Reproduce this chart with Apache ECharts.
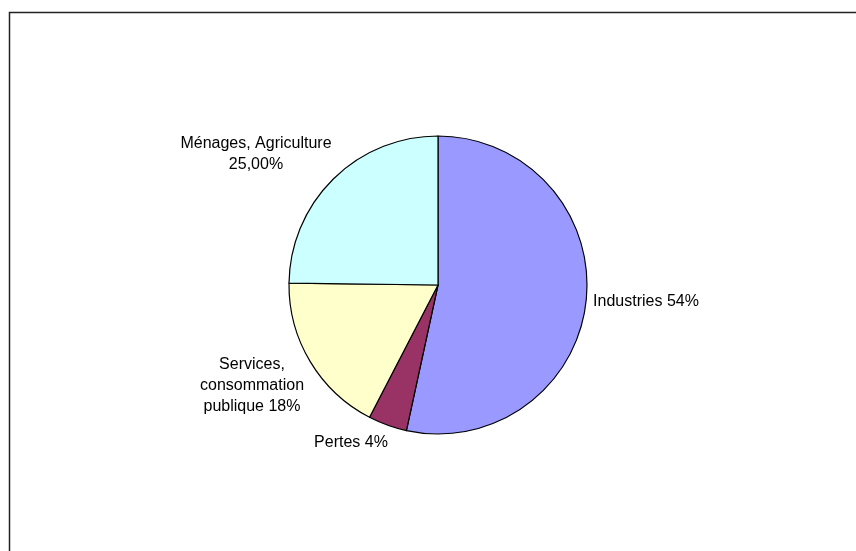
<!DOCTYPE html>
<html>
<head>
<meta charset="utf-8">
<script src="https://cdn.jsdelivr.net/npm/echarts@6/dist/echarts.min.js"></script>
<style>
  html, body { margin: 0; padding: 0; background: #fff; }
  #chart { width: 856px; height: 551px; }
</style>
</head>
<body>
<div id="chart"></div>
<script>
// data
const categories = ['Industries', 'Pertes', 'Services, consommation publique', 'Ménages, Agriculture'];
const values = [53.4, 4.2, 17.6, 24.8];
const labelTexts = ['Industries 54%', 'Pertes 4%', 'Services,\nconsommation\npublique 18%', 'Ménages, Agriculture\n25,00%'];
const colors = ['#9999FF', '#993366', '#FFFFCC', '#CCFFFF'];

// where each label sits (centre of text block)
const labelPos = [[646, 302], [351, 443], [252, 386], [256, 154]];

const chart = echarts.init(document.getElementById('chart'));

chart.setOption({
  animation: false,
  graphic: [{
    type: 'rect',
    shape: { x: 9.5, y: 12.5, width: 900, height: 600 },
    style: { fill: 'none', stroke: '#222', lineWidth: 1.5 }
  }],
  series: [{
    type: 'pie',
    center: [438, 285],
    radius: 149,
    startAngle: 90,
    clockwise: true,
    data: categories.map((name, i) => ({
      name: name,
      value: values[i],
      itemStyle: { color: colors[i] },
      label: { formatter: labelTexts[i] }
    })),
    itemStyle: { borderColor: '#000', borderWidth: 1.2 },
    label: {
      show: true,
      position: 'outside',
      color: '#000',
      fontFamily: 'Liberation Sans, Arial, sans-serif',
      fontSize: 16,
      lineHeight: 21,
      align: 'center'
    },
    labelLine: { show: false },
    labelLayout: function (params) {
      const p = labelPos[params.dataIndex];
      return { x: p[0], y: p[1], align: 'center', verticalAlign: 'middle' };
    },
    emphasis: { disabled: true }
  }]
});
</script>
</body>
</html>
